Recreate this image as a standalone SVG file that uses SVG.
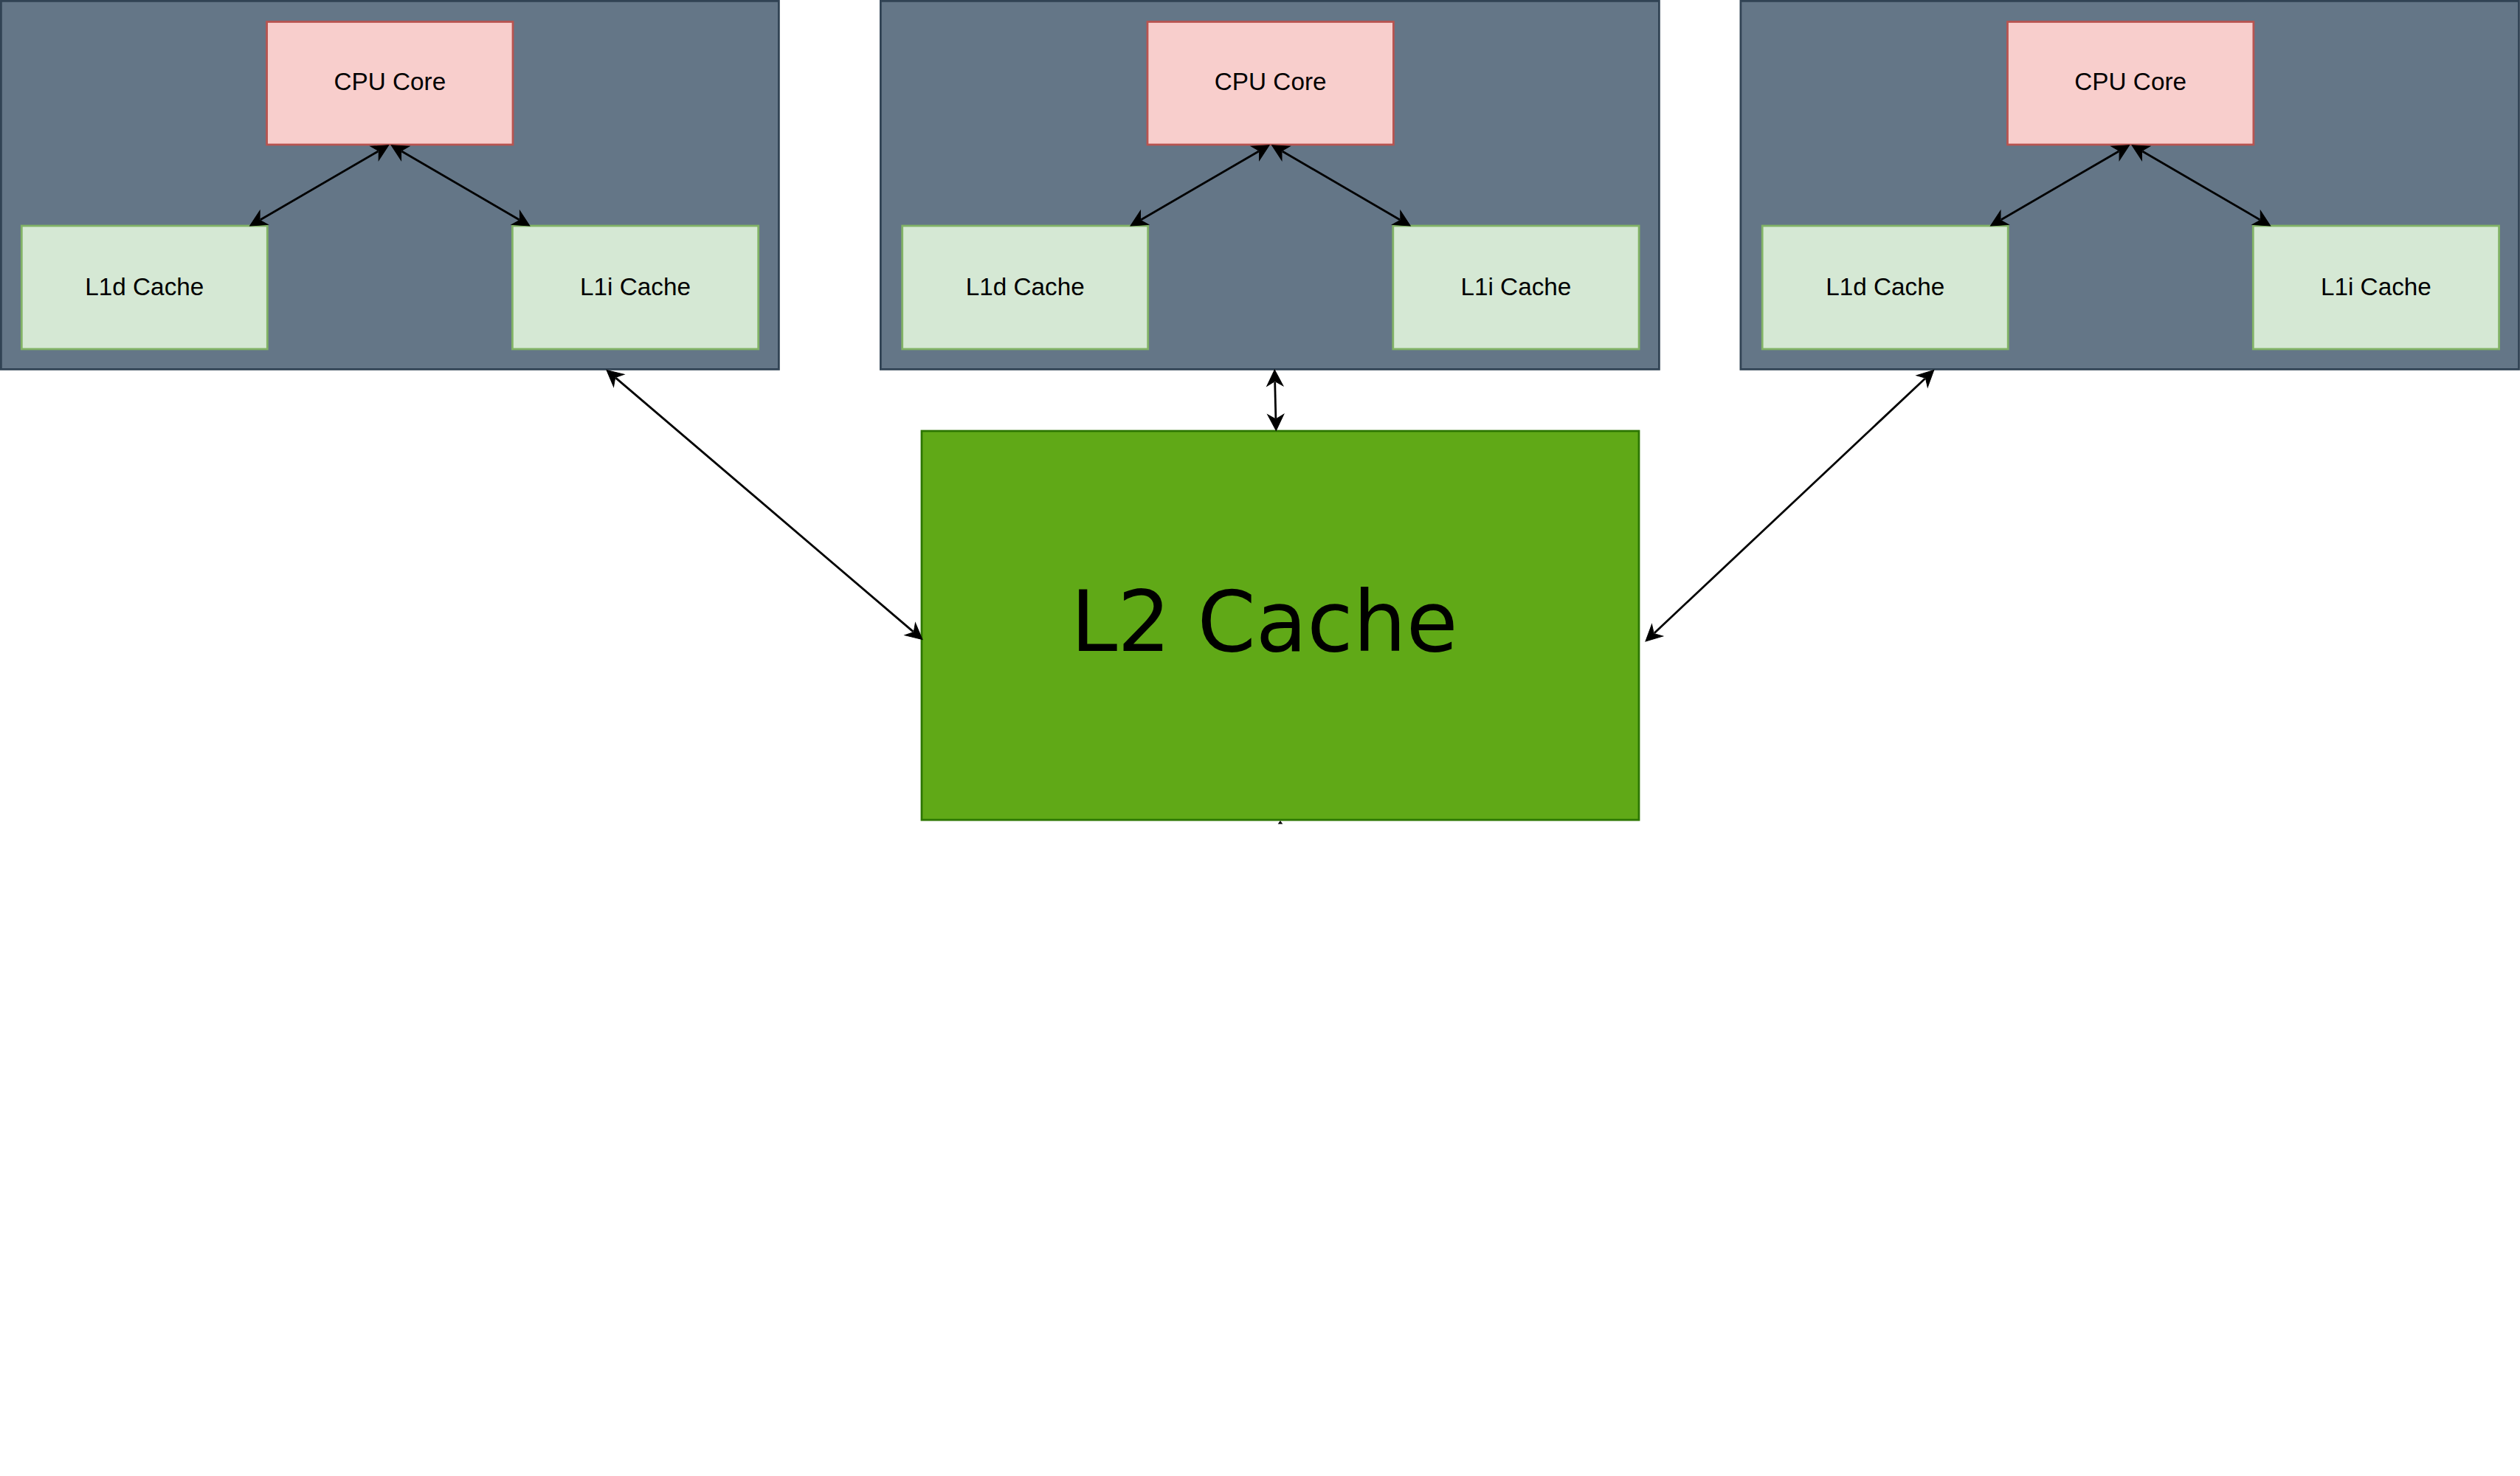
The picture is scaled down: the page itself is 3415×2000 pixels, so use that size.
<svg xmlns="http://www.w3.org/2000/svg" width="3415" height="2000" viewBox="0 0 3415 2000">
  <style>
    .box { fill: #647687; stroke: #314354; stroke-width: 2.78; }
    .cpu { fill: #f8cecc; stroke: #b85450; stroke-width: 2.78; }
    .l1 { fill: #d5e8d4; stroke: #82b366; stroke-width: 2.78; }
    .l2 { fill: #60a917; stroke: #2d7600; stroke-width: 2.78; }
    .lbl { font-family: "Liberation Sans", Arial, Helvetica, sans-serif; font-size: 33.3px; fill: #000000; text-anchor: middle; }
    .big { font-family: "DejaVu Sans", Verdana, sans-serif; font-size: 113.5px; fill: #000000; }
    .edge { fill: none; stroke: #000000; stroke-width: 2.78; marker-start: url(#arr); marker-end: url(#arr); }
  </style>
  <defs>
    <marker id="arr" markerUnits="userSpaceOnUse" orient="auto-start-reverse" refX="0" refY="0" markerWidth="30" markerHeight="30" overflow="visible">
      <path d="M16.5,0 L-5.5,-11 L1,0 L-5.5,11 Z" fill="#000000" stroke="#000000" stroke-width="1" stroke-linejoin="miter"/>
    </marker>
  </defs>
  <rect x="0" y="0" width="3415" height="2000" fill="#ffffff"/>

  <g id="core1">
    <rect class="box" x="1.4" y="1.4" width="1054" height="499"/>
    <g id="core1-cpu"><rect class="cpu" x="361.6" y="29.5" width="333.4" height="166.5"/><text class="lbl" x="528.3" y="121.5">CPU Core</text></g>
    <g id="core1-l1d"><rect class="l1" x="29.3" y="306" width="333" height="167"/><text class="lbl" x="195.8" y="399.5">L1d Cache</text></g>
    <g id="core1-l1i"><rect class="l1" x="694.4" y="306" width="333.3" height="167"/><text class="lbl" x="861" y="399.5">L1i Cache</text></g>
  </g>

  <g id="core2" transform="translate(1193.4,0)">
    <rect class="box" x="0" y="1.4" width="1055" height="499"/>
    <g id="core2-cpu"><rect class="cpu" x="361.6" y="29.5" width="333.4" height="166.5"/><text class="lbl" x="528.3" y="121.5">CPU Core</text></g>
    <g id="core2-l1d"><rect class="l1" x="29.3" y="306" width="333" height="167"/><text class="lbl" x="195.8" y="399.5">L1d Cache</text></g>
    <g id="core2-l1i"><rect class="l1" x="694.4" y="306" width="333.3" height="167"/><text class="lbl" x="861" y="399.5">L1i Cache</text></g>
  </g>

  <g id="core3" transform="translate(2358.9,0)">
    <rect class="box" x="0" y="1.4" width="1054.6" height="499"/>
    <g id="core3-cpu"><rect class="cpu" x="361.6" y="29.5" width="333.4" height="166.5"/><text class="lbl" x="528.3" y="121.5">CPU Core</text></g>
    <g id="core3-l1d"><rect class="l1" x="29.3" y="306" width="333" height="167"/><text class="lbl" x="195.8" y="399.5">L1d Cache</text></g>
    <g id="core3-l1i"><rect class="l1" x="694.4" y="306" width="333.3" height="167"/><text class="lbl" x="861" y="399.5">L1i Cache</text></g>
  </g>

  <g id="l2cache">
    <rect class="l2" x="1249" y="584" width="972" height="527"/>
    <text class="big" x="1451" y="882">L2 Cache</text>
  </g>

  <g id="connectors">
    <g transform="translate(0,0)">
      <line class="edge" x1="512.4" y1="205.0" x2="352.9" y2="297.7"/>
      <line class="edge" x1="544.4" y1="205.0" x2="703.6" y2="297.7"/>
    </g>
    <g transform="translate(1193.4,0)">
      <line class="edge" x1="512.4" y1="205.0" x2="352.9" y2="297.7"/>
      <line class="edge" x1="544.4" y1="205.0" x2="703.6" y2="297.7"/>
    </g>
    <g transform="translate(2358.9,0)">
      <line class="edge" x1="512.4" y1="205.0" x2="352.9" y2="297.7"/>
      <line class="edge" x1="544.4" y1="205.0" x2="703.6" y2="297.7"/>
    </g>
    <line class="edge" x1="834.5" y1="512.1" x2="1237.5" y2="855.9"/>
    <line class="edge" x1="1727.7" y1="517.5" x2="1728.9" y2="567.0"/>
    <line class="edge" x1="2608.7" y1="512.9" x2="2242.0" y2="857.7"/>
    <path d="M1735,1112 L1738.3,1116.5 L1731.7,1116.5 Z" fill="#000000"/>
  </g>
</svg>
